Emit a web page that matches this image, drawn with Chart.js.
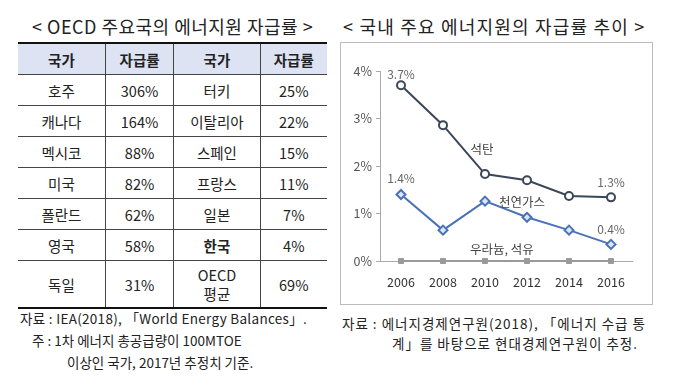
<!doctype html>
<html>
<head>
<meta charset="UTF-8">
<script src="https://cdn.jsdelivr.net/npm/chart.js"></script>
<style>
  body { margin: 0; width: 680px; height: 382px; background: #fff; font-family: "Noto Sans CJK KR", sans-serif; color: #222; position: relative; overflow: hidden; }
  .title { position: absolute; top: 13px; font-size: 18px; white-space: nowrap; color: #222; }
  #tbl { position: absolute; left: 18px; top: 42px; width: 309px; border-collapse: collapse; font-size: 14.5px; }
  #tbl th, #tbl td { text-align: center; padding: 0; border: 1px solid #444; }
  #tbl th { background: #dde3f3; height: 30px; font-weight: bold; }
  #tbl td { height: 30px; }
  #tbl tr:first-child th { border-top: 2px solid #111; }
  #tbl tr:last-child td { border-bottom: 2px solid #111; height: 46px; line-height: 19px; }
  #tbl th:first-child, #tbl td:first-child { border-left: none; }
  #tbl th:last-child, #tbl td:last-child { border-right: none; }
  .note { position: absolute; font-size: 13.5px; white-space: nowrap; color: #222; }
  #box { position: absolute; left: 340px; top: 42px; width: 311px; height: 261px; border: 1px solid #bbb; }
  #chart { position: absolute; left: 0; top: 0; }
</style>
</head>
<body>

<div class="title" style="left:32px; letter-spacing:0.5px">&lt; OECD 주요국의 에너지원 자급률 &gt;</div>
<table id="tbl"></table>
<div class="note" style="left:20px; top:308px; letter-spacing:0.3px">자료 : IEA(2018), 「World Energy Balances」.</div>
<div class="note" style="left:32px; top:330px">주 : 1차 에너지 총공급량이 100MTOE</div>
<div class="note" style="left:67px; top:352px">이상인 국가, 2017년 추정치 기준.</div>

<div class="title" style="left:343px; letter-spacing:1.2px">&lt; 국내 주요 에너지원의 자급률 추이 &gt;</div>
<div id="box"><canvas id="chart" width="311" height="261"></canvas></div>
<div class="note" style="left:342px; top:313px; letter-spacing:1px">자료 : 에너지경제연구원(2018), 「에너지 수급 통</div>
<div class="note" style="left:392px; top:333px; letter-spacing:1px">계」를 바탕으로 현대경제연구원이 추정.</div>

<script>
// table data
const headers = ['국가', '자급률', '국가', '자급률'];
const countriesA = ['호주', '캐나다', '멕시코', '미국', '폴란드', '영국', '독일'];
const ratesA = ['306%', '164%', '88%', '82%', '62%', '58%', '31%'];
const countriesB = ['터키', '이탈리아', '스페인', '프랑스', '일본', '한국', 'OECD<br>평균'];
const ratesB = ['25%', '22%', '15%', '11%', '7%', '4%', '69%'];

// chart data
const years = ['2006', '2008', '2010', '2012', '2014', '2016'];
const coal = [3.7, 2.86, 1.83, 1.70, 1.37, 1.34];
const gas = [1.40, 0.65, 1.26, 0.92, 0.65, 0.35];
const uraniumOil = [0, 0, 0, 0, 0, 0];

// build table
const tbl = document.getElementById('tbl');
const widths = [88, 68, 86, 67];
let html = '<tr>' + headers.map((h, i) => `<th style="width:${widths[i]}px">${h}</th>`).join('') + '</tr>';
for (let i = 0; i < countriesA.length; i++) {
    const bold = countriesB[i] === '한국' ? ' style="font-weight:bold"' : '';
    html += `<tr><td>${countriesA[i]}</td><td>${ratesA[i]}</td><td${bold}>${countriesB[i]}</td><td>${ratesB[i]}</td></tr>`;
}
tbl.innerHTML = html;

// text labels on the chart
const labelPlugin = {
    id: 'labels',
    afterDatasetsDraw(chart) {
        const ctx = chart.ctx;
        const x = chart.scales.x, y = chart.scales.y;
        ctx.save();
        ctx.textAlign = 'center';
        ctx.textBaseline = 'middle';
        ctx.font = '12px "Noto Sans CJK KR"';
        ctx.fillStyle = '#666';
        const valueLabels = [
            [0, coal[0], '3.7%', -11],
            [5, coal[5], '1.3%', -15],
            [0, gas[0], '1.4%', -16],
            [5, gas[5], '0.4%', -15]
        ];
        valueLabels.forEach(([i, v, t, dy]) => {
            ctx.fillText(t, x.getPixelForValue(i), y.getPixelForValue(v) + dy);
        });
        ctx.font = '12.5px "Noto Sans CJK KR"';
        ctx.fillStyle = '#444';
        const nameLabels = [
            [1.93, 2.36, '석탄'],
            [2.88, 1.24, '천연가스'],
            [2.4, 0.25, '우라늄, 석유']
        ];
        nameLabels.forEach(([i, v, t]) => {
            const px = x.getPixelForValue(0) + (x.getPixelForValue(1) - x.getPixelForValue(0)) * i;
            ctx.fillText(t, px, y.getPixelForValue(v));
        });
        ctx.restore();
    }
};

new Chart(document.getElementById('chart'), {
    type: 'line',
    data: {
        labels: years,
        datasets: [
            {
                label: '우라늄, 석유',
                data: uraniumOil,
                borderColor: '#9a9a9a',
                backgroundColor: '#9a9a9a',
                borderWidth: 2,
                pointStyle: 'rect',
                pointRadius: 3.5,
                pointBorderWidth: 1,
                clip: false
            },
            {
                label: '천연가스',
                data: gas,
                borderColor: '#4a72b8',
                backgroundColor: '#dbe5f5',
                borderWidth: 2,
                pointStyle: 'rectRot',
                pointRadius: 4.5,
                pointBorderWidth: 2,
                clip: false
            },
            {
                label: '석탄',
                data: coal,
                borderColor: '#3b4658',
                backgroundColor: '#ffffff',
                borderWidth: 2,
                pointStyle: 'circle',
                pointRadius: 4,
                pointBorderWidth: 2,
                clip: false
            }
        ]
    },
    options: {
        responsive: false,
        animation: false,
        layout: { padding: { left: 0, top: 28, right: 20, bottom: 0 } },
        plugins: { legend: { display: false }, tooltip: { enabled: false } },
        scales: {
            x: {
                offset: true,
                grid: { display: false },
                border: { display: true, color: '#aaa', width: 1 },
                ticks: { color: '#333', font: { size: 12.5, family: 'Noto Sans CJK KR' }, padding: 6 },
                afterFit(scale) { scale.height = 43; }
            },
            y: {
                min: 0,
                max: 4,
                ticks: {
                    stepSize: 1,
                    color: '#555',
                    font: { size: 12.5, family: 'Noto Sans CJK KR' },
                    padding: 4,
                    callback: v => v + '%'
                },
                grid: { drawOnChartArea: false, drawTicks: true, tickLength: 4, color: '#aaa' },
                border: { color: '#aaa' },
                afterFit(scale) { scale.width = 39; }
            }
        }
    },
    plugins: [labelPlugin]
});
</script>
</body>
</html>
